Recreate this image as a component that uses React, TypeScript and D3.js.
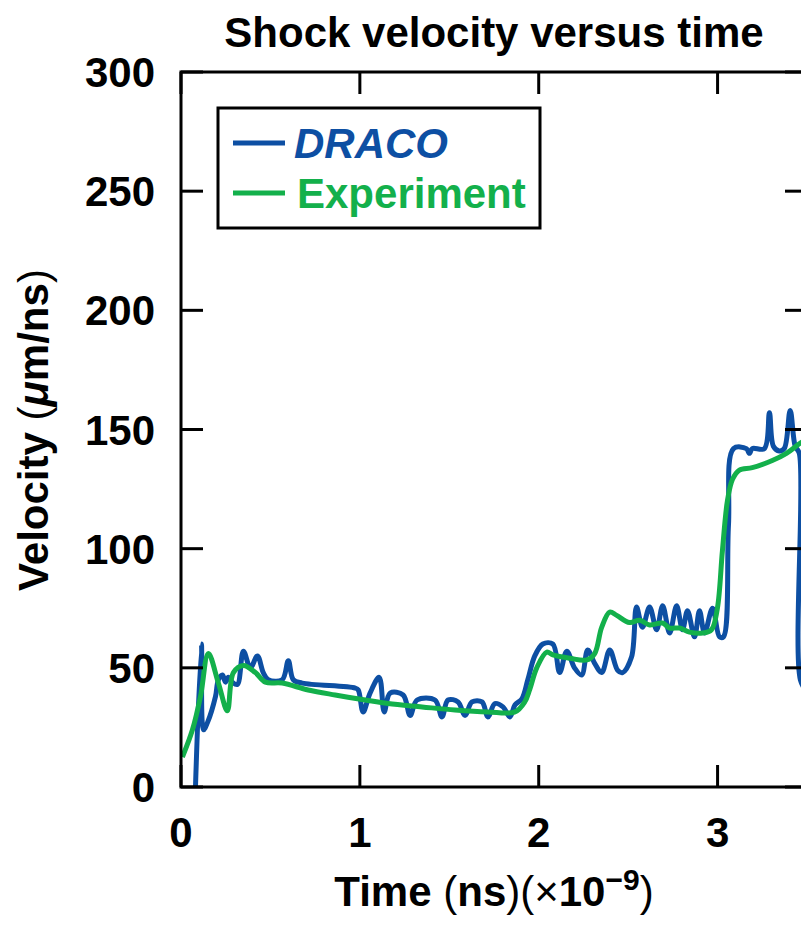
import React from "react";
import * as d3 from "d3";

const title = "Shock velocity versus time";
const xTicks = [0, 1, 2, 3];
const yTicks = [0, 50, 100, 150, 200, 250, 300];
const seriesNames = ["DRACO", "Experiment"];

const dracoT = [0.081, 0.114, 0.126, 0.148, 0.193, 0.209, 0.232, 0.248, 0.265, 0.287, 0.315, 0.349, 0.388, 0.427, 0.46, 0.488, 0.566, 0.6, 0.628, 0.678, 0.974, 0.991, 1.018, 1.057, 1.108, 1.136, 1.169, 1.242, 1.281, 1.32, 1.42, 1.459, 1.493, 1.549, 1.588, 1.627, 1.683, 1.716, 1.755, 1.8, 1.839, 1.867, 1.906, 1.939, 1.978, 2.023, 2.079, 2.117, 2.157, 2.2, 2.24, 2.274, 2.312, 2.352, 2.397, 2.441, 2.469, 2.519, 2.547, 2.58, 2.62, 2.659, 2.693, 2.732, 2.771, 2.804, 2.832, 2.871, 2.899, 2.927, 2.972, 3.011, 3.033, 3.061, 3.089, 3.161, 3.178, 3.194, 3.262, 3.29, 3.312, 3.345, 3.373, 3.406, 3.434, 3.457, 3.463, 3.5];
const dracoV = [0, 60, 24, 27, 38, 45, 47, 44, 46, 44, 43, 57, 50, 55, 48, 45, 45, 53, 45, 43.6, 41.5, 40.7, 31.5, 39.4, 46, 31.5, 39.4, 38.6, 30, 36.5, 36.5, 29.4, 36.5, 35.7, 30, 35.7, 35.7, 29.4, 35, 33.6, 29.4, 34.4, 37, 45, 55, 60, 60, 48, 57, 50, 47, 57.5, 52, 48, 57.5, 49, 48, 54.5, 75.5, 67, 75.5, 66, 76, 64.6, 76, 66, 74, 63, 74, 64.6, 75, 63, 63, 110, 142, 142, 140, 142, 142, 157, 143, 141, 142, 158, 143, 140, 45, 40];

const expT = [0.008, 0.064, 0.109, 0.153, 0.209, 0.259, 0.293, 0.349, 0.416, 0.472, 0.566, 0.711, 0.862, 1.03, 1.158, 1.348, 1.532, 1.716, 1.867, 1.922, 1.95, 1.989, 2.045, 2.079, 2.174, 2.269, 2.313, 2.352, 2.397, 2.436, 2.508, 2.564, 2.62, 2.692, 2.732, 2.787, 2.843, 2.916, 2.966, 2.999, 3.027, 3.055, 3.083, 3.122, 3.194, 3.306, 3.385, 3.457, 3.5];
const expV = [12.6, 24, 38, 56, 43.6, 32, 48, 51, 48, 44, 43.6, 40.7, 38.6, 36.5, 35, 33.6, 32.3, 31.5, 31.5, 35.7, 41, 50, 56.6, 55.4, 54, 53.3, 56, 67, 73.4, 72, 69, 70, 68, 68.8, 66.7, 66.7, 65, 64.6, 66, 75, 99, 120, 129, 133, 134, 137, 140, 144, 146];

const BLUE = "#0d4fa3";
const GREEN = "#13b04b";
const FONT = "'Liberation Sans', Arial, Helvetica, sans-serif";

export default function App() {
  const W = 801, H = 925;
  const left = 181, right = 807, top = 72, bottom = 787;
  const x = d3.scaleLinear().domain([0, 3.5]).range([left, right]);
  const y = d3.scaleLinear().domain([0, 300]).range([bottom, top]);
  const line = d3
    .line<[number, number]>()
    .x((d) => x(d[0]))
    .y((d) => y(d[1]))
    .curve(d3.curveCatmullRom.alpha(0.5));
  const draco = dracoT.map((t, i) => [t, dracoV[i]] as [number, number]);
  const exp = expT.map((t, i) => [t, expV[i]] as [number, number]);
  const tickLen = 22;
  const cx = (left + right) / 2;

  return (
    <svg width={W} height={H} style={{ position: "absolute", left: 0, top: 0, background: "#fff" }} fontFamily={FONT}>
      <defs>
        <clipPath id="plot">
          <rect x={left} y={top} width={right - left} height={bottom - top} />
        </clipPath>
      </defs>
      <text x={cx} y={47} textAnchor="middle" fontSize={42} fontWeight="bold">{title}</text>

      <g clipPath="url(#plot)">
        <path d={line(draco) || ""} fill="none" stroke={BLUE} strokeWidth={5} strokeLinejoin="round" />
        <path d={line(exp) || ""} fill="none" stroke={GREEN} strokeWidth={5} strokeLinejoin="round" />
      </g>

      {/* frame */}
      <rect x={left} y={top} width={right - left} height={bottom - top} fill="none" stroke="#000" strokeWidth={3} />
      {yTicks.map((v) => (
        <g key={"y" + v}>
          <line x1={left} x2={left + tickLen} y1={y(v)} y2={y(v)} stroke="#000" strokeWidth={3} />
          <line x1={right} x2={right - tickLen} y1={y(v)} y2={y(v)} stroke="#000" strokeWidth={3} />
          <text x={155} y={y(v)} dy="0.36em" textAnchor="end" fontSize={42} fontWeight="bold">{v}</text>
        </g>
      ))}
      {xTicks.map((v) => (
        <g key={"x" + v}>
          <line x1={x(v)} x2={x(v)} y1={bottom} y2={bottom - tickLen} stroke="#000" strokeWidth={3} />
          <line x1={x(v)} x2={x(v)} y1={top} y2={top + tickLen} stroke="#000" strokeWidth={3} />
          <text x={x(v)} y={847} textAnchor="middle" fontSize={42} fontWeight="bold">{v}</text>
        </g>
      ))}

      {/* axis titles */}
      <text x={cx} y={906} textAnchor="middle" fontSize={42} fontWeight="bold">
        Time <tspan fontWeight="normal">(</tspan>ns<tspan fontWeight="normal">)(×</tspan>10
        <tspan fontSize={30} dy={-16}>−9</tspan>
        <tspan fontWeight="normal" dy={16}>)</tspan>
      </text>
      <text transform={`translate(48,430) rotate(-90)`} textAnchor="middle" fontSize={42} fontWeight="bold">
        Velocity <tspan fontWeight="normal">(</tspan><tspan fontStyle="italic">μ</tspan>m/ns<tspan fontWeight="normal">)</tspan>
      </text>

      {/* legend */}
      <rect x={218} y={108} width={322} height={120} fill="#fff" stroke="#000" strokeWidth={3} />
      <line x1={233} x2={285} y1={143} y2={143} stroke={BLUE} strokeWidth={5} />
      <line x1={233} x2={285} y1={193} y2={193} stroke={GREEN} strokeWidth={5} />
      <text x={294} y={158} fontSize={42} fontWeight="bold" fontStyle="italic" fill={BLUE}>{seriesNames[0]}</text>
      <text x={297} y={208} fontSize={42} fontWeight="bold" fill={GREEN}>{seriesNames[1]}</text>
    </svg>
  );
}
